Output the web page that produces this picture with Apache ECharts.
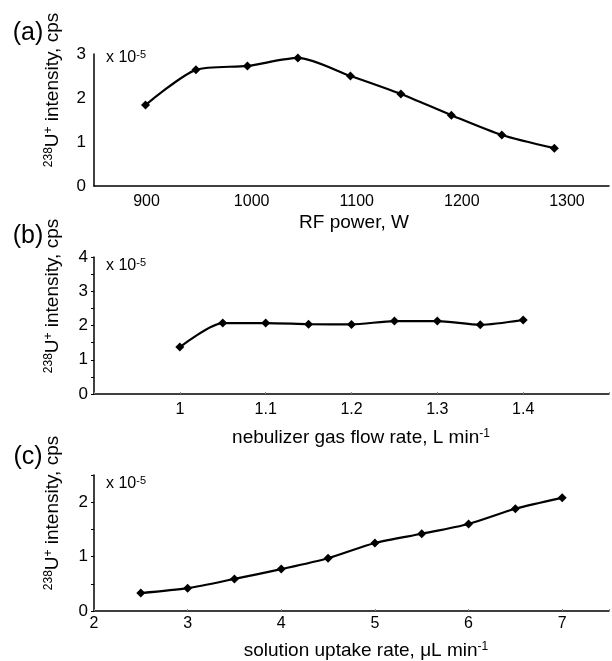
<!DOCTYPE html>
<html>
<head>
<meta charset="utf-8">
<script src="https://cdn.jsdelivr.net/npm/echarts@6/dist/echarts.min.js"></script>
<style>
html,body{margin:0;padding:0;background:#fff;}
#chart{width:612px;height:661px;}
</style>
</head>
<body>
<div id="chart"></div>
<script>
// Panel (a): RF power
const rfPower = [899, 947, 996, 1044, 1094, 1142, 1190, 1238, 1288];
const intensityA = [1.84, 2.64, 2.73, 2.91, 2.50, 2.09, 1.61, 1.16, 0.86];
// Panel (b): nebulizer gas flow rate
const gasFlow = [1.00, 1.05, 1.10, 1.15, 1.20, 1.25, 1.30, 1.35, 1.40];
const intensityB = [1.37, 2.07, 2.07, 2.04, 2.03, 2.13, 2.13, 2.02, 2.16];
// Panel (c): solution uptake rate
const uptake = [2.5, 3.0, 3.5, 4.0, 4.5, 5.0, 5.5, 6.0, 6.5, 7.0];
const intensityC = [0.33, 0.42, 0.59, 0.77, 0.97, 1.25, 1.42, 1.60, 1.88, 2.08];

const panelLabels = ['(a)', '(b)', '(c)'];
const xTitles = [
  '{n|RF power, W}',
  '{n|nebulizer gas flow rate, L min}{sup|-1}',
  '{n|solution uptake rate, μL min}{sup|-1}'
];
const yTitle = '{sup|238}{n|U}{sup|+}{n| intensity, cps}';
const scaleText = '{n|x 10}{sup|-5}';

const FONT = 'Liberation Sans, Arial, sans-serif';
const chart = echarts.init(document.getElementById('chart'));

const axisLineStyle = {lineStyle: {color: '#000', width: 1.5}};
const xLabelStyle = {color: '#000', fontSize: 16, fontFamily: FONT};
const yLabelStyle = {color: '#000', fontSize: 17, fontFamily: FONT};

function zip(xs, ys) { return xs.map((x, i) => [x, ys[i]]); }

const grids = [
  {left: 94, top: 54, width: 518, height: 132},
  {left: 94, top: 257, width: 518, height: 137},
  {left: 94, top: 475, width: 518, height: 136}
];

const xAxes = [
  {gridIndex: 0, type: 'value', min: 850, max: 1340, interval: 50,
   axisLine: axisLineStyle, axisTick: {show: false}, splitLine: {show: false},
   axisLabel: Object.assign({margin: 8, formatter: v => (v % 100 === 0 ? String(v) : '')}, xLabelStyle)},
  {gridIndex: 1, type: 'value', min: 0.9, max: 1.5, interval: 0.1,
   axisLine: axisLineStyle, axisTick: {show: true, inside: true, length: 2, lineStyle: {color: '#888'}}, splitLine: {show: false},
   axisLabel: Object.assign({margin: 8, formatter: v => { const r = Math.round(v * 10) / 10; return (r >= 0.95 && r <= 1.45) ? String(r) : ''; }}, xLabelStyle)},
  {gridIndex: 2, type: 'value', min: 2, max: 7.5, interval: 1,
   axisLine: axisLineStyle, axisTick: {show: true, inside: true, length: 2, lineStyle: {color: '#888'}}, splitLine: {show: false},
   axisLabel: Object.assign({margin: 5, formatter: v => (Number.isInteger(v) ? String(v) : '')}, xLabelStyle)}
];

const yAxes = [
  {gridIndex: 0, type: 'value', min: 0, max: 3, interval: 1,
   axisLine: axisLineStyle, axisTick: {show: false}, splitLine: {show: false},
   axisLabel: Object.assign({margin: 8}, yLabelStyle)},
  {gridIndex: 1, type: 'value', min: 0, max: 4, interval: 0.5,
   axisLine: axisLineStyle, axisTick: {show: true, length: 3, lineStyle: {color: '#000'}}, splitLine: {show: false},
   axisLabel: Object.assign({margin: 6, formatter: v => (Number.isInteger(v) ? String(v) : '')}, yLabelStyle)},
  {gridIndex: 2, type: 'value', min: 0, max: 2.5, interval: 0.5,
   axisLine: axisLineStyle, axisTick: {show: true, length: 3, lineStyle: {color: '#000'}}, splitLine: {show: false},
   axisLabel: Object.assign({margin: 6, formatter: v => (Number.isInteger(v) ? String(v) : '')}, yLabelStyle)}
];

function lineSeries(idx, data) {
  return {
    type: 'line', xAxisIndex: idx, yAxisIndex: idx, data: data,
    smooth: 0.25, symbol: 'diamond', symbolSize: 9,
    lineStyle: {color: '#000', width: 2.2},
    itemStyle: {color: '#000'},
    silent: true, animation: false
  };
}

const yTitleCenters = [[53, 90], [53, 296], [53, 513]];
const panelCenters = [[28, 33], [28, 236], [28, 457]];
const scaleLabelPos = [[106, 58], [106, 266], [106, 484]];
const xTitleCenters = [[354, 223], [361, 438], [366, 651]];

const richText = {
  n: {fontSize: 19, fontFamily: FONT, fill: '#000', color: '#000'},
  sup: {fontSize: 12, fontFamily: FONT, fill: '#000', color: '#000', verticalAlign: 'top', padding: [0, 0, 8, 0]}
};
const richScale = {
  n: {fontSize: 16, fontFamily: FONT, fill: '#000', color: '#000'},
  sup: {fontSize: 11, fontFamily: FONT, fill: '#000', color: '#000', verticalAlign: 'top', padding: [0, 0, 7, 0]}
};

const graphics = [];
for (let i = 0; i < 3; i++) {
  graphics.push({
    type: 'text', x: panelCenters[i][0], y: panelCenters[i][1],
    style: {text: panelLabels[i], font: '25px ' + FONT, fill: '#000', align: 'center', verticalAlign: 'middle'}
  });
  graphics.push({
    type: 'text', x: yTitleCenters[i][0], y: yTitleCenters[i][1], rotation: Math.PI / 2,
    style: {text: yTitle, rich: richText, align: 'center', verticalAlign: 'middle'}
  });
  graphics.push({
    type: 'text', x: scaleLabelPos[i][0], y: scaleLabelPos[i][1],
    style: {text: scaleText, rich: richScale, align: 'left', verticalAlign: 'middle'}
  });
  graphics.push({
    type: 'text', x: xTitleCenters[i][0], y: xTitleCenters[i][1],
    style: {text: xTitles[i], rich: richText, align: 'center', verticalAlign: 'middle'}
  });
}

chart.setOption({
  animation: false,
  backgroundColor: '#fff',
  grid: grids,
  xAxis: xAxes,
  yAxis: yAxes,
  series: [
    lineSeries(0, zip(rfPower, intensityA)),
    lineSeries(1, zip(gasFlow, intensityB)),
    lineSeries(2, zip(uptake, intensityC))
  ],
  graphic: graphics
});
</script>
</body>
</html>
